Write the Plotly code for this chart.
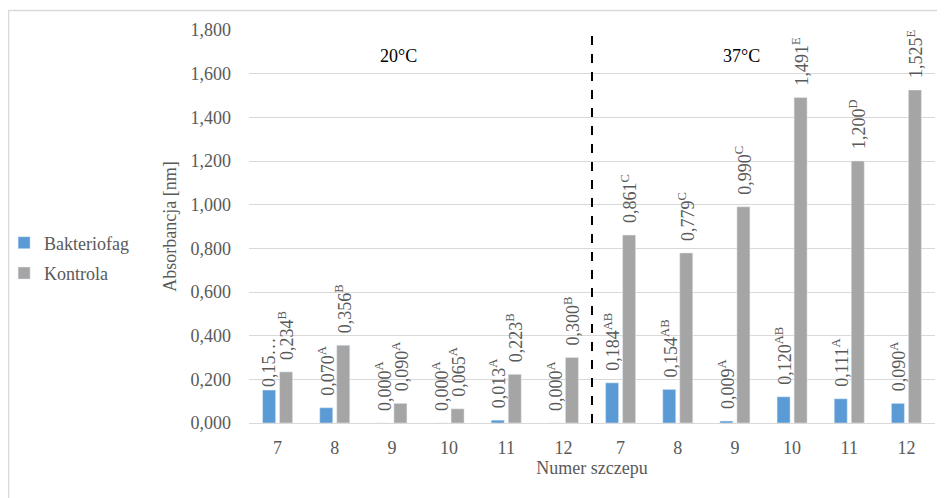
import plotly.graph_objects as go

# ---- data ----
strains = ["7", "8", "9", "10", "11", "12"]
temps = ["20°C", "37°C"]

bakteriofag_20 = [0.151, 0.070, 0.000, 0.000, 0.013, 0.000]
bakteriofag_37 = [0.184, 0.154, 0.009, 0.120, 0.111, 0.090]
kontrola_20 = [0.234, 0.356, 0.090, 0.065, 0.223, 0.300]
kontrola_37 = [0.861, 0.779, 0.990, 1.491, 1.200, 1.525]

bakteriofag_letters_20 = ["", "A", "A", "A", "A", "A"]
bakteriofag_letters_37 = ["AB", "AB", "A", "AB", "A", "A"]
kontrola_letters_20 = ["B", "B", "A", "A", "B", "B"]
kontrola_letters_37 = ["C", "C", "C", "E", "D", "E"]

y_ticks = [0, 0.2, 0.4, 0.6, 0.8, 1.0, 1.2, 1.4, 1.6, 1.8]

# ---- build ----
cats = [f"{t} {s}" for t in temps for s in strains]
tick_text = strains + strains

def fmt(v):
    return f"{v:.3f}".replace(".", ",")

PAD = "\u00a0\u00a0"

def labels(vals, letters):
    out = []
    for v, l in zip(vals, letters):
        if l == "":
            out.append(fmt(v)[:4] + "…")
        else:
            out.append(f"{PAD}{fmt(v)}<sup>{l}</sup>")
    return out

bak = bakteriofag_20 + bakteriofag_37
kon = kontrola_20 + kontrola_37
bak_txt = labels(bakteriofag_20, bakteriofag_letters_20) + labels(bakteriofag_37, bakteriofag_letters_37)
kon_txt = labels(kontrola_20, kontrola_letters_20) + labels(kontrola_37, kontrola_letters_37)

FONT = "Liberation Serif"
GRAY_TXT = "#595959"
FS = 18

fig = go.Figure()
fig.add_trace(go.Bar(
    name="Bakteriofag", x=cats, y=bak, marker_color="#5b9bd5",
    text=bak_txt, textposition="outside", textangle=-90,
    textfont=dict(family=FONT, size=FS, color=GRAY_TXT),
    cliponaxis=False, constraintext="none", legendgroup="a",
))
fig.add_trace(go.Bar(
    name="Kontrola", x=cats, y=kon, marker_color="#a5a5a5",
    text=kon_txt, textposition="outside", textangle=-90,
    textfont=dict(family=FONT, size=FS, color=GRAY_TXT),
    cliponaxis=False, constraintext="none", legendgroup="b",
))

fig.update_layout(
    width=937, height=490,
    margin=dict(l=241, r=10, t=22, b=75, autoexpand=False),
    paper_bgcolor="white", plot_bgcolor="white",
    barmode="group", bargap=0.405, bargroupgap=0.235,
    separators=", ",
    font=dict(family=FONT, size=FS, color=GRAY_TXT),
    showlegend=True,
    legend=dict(x=-0.357, xanchor="left", y=0.42, yanchor="middle",
                font=dict(family=FONT, size=FS, color=GRAY_TXT),
                itemwidth=30, tracegroupgap=4, bgcolor="rgba(0,0,0,0)"),
    xaxis=dict(
        type="category", categoryorder="array", categoryarray=cats,
        tickmode="array", tickvals=cats, ticktext=tick_text,
        showgrid=False, showline=True, linecolor="#d9d9d9", linewidth=1,
        ticks="", ticklabelstandoff=8,
        tickfont=dict(family=FONT, size=FS, color=GRAY_TXT),
        title=dict(text="Numer szczepu", standoff=3,
                   font=dict(family=FONT, size=FS, color=GRAY_TXT)),
    ),
    yaxis=dict(
        range=[0, 1.8], tickmode="array", tickvals=y_ticks,
        tickformat=".3f", showgrid=True, gridcolor="#d9d9d9", gridwidth=1,
        zeroline=False, showline=False, ticks="", ticklabelstandoff=17,
        tickfont=dict(family=FONT, size=FS, color=GRAY_TXT),
        title=dict(text="Absorbancja [nm]", standoff=9,
                   font=dict(family=FONT, size=FS, color=GRAY_TXT)),
    ),
    shapes=[
        dict(type="line", xref="x", yref="y", x0=5.5, x1=5.5, y0=0, y1=1.8,
             line=dict(color="black", width=2, dash="dash")),
        dict(type="rect", xref="paper", yref="paper", x0=-0.3506, x1=1.2,
             y0=-0.4, y1=1.0497, line=dict(color="#d9d9d9", width=1.5),
             layer="below"),
    ],
    annotations=[
        dict(text="20°C", xref="paper", yref="paper", x=0.188, y=0.964,
             showarrow=False, font=dict(family=FONT, size=FS, color="black")),
        dict(text="37°C", xref="paper", yref="paper", x=0.748, y=0.964,
             showarrow=False, font=dict(family=FONT, size=FS, color="black")),
    ],
)

fig.write_html("out.html")
